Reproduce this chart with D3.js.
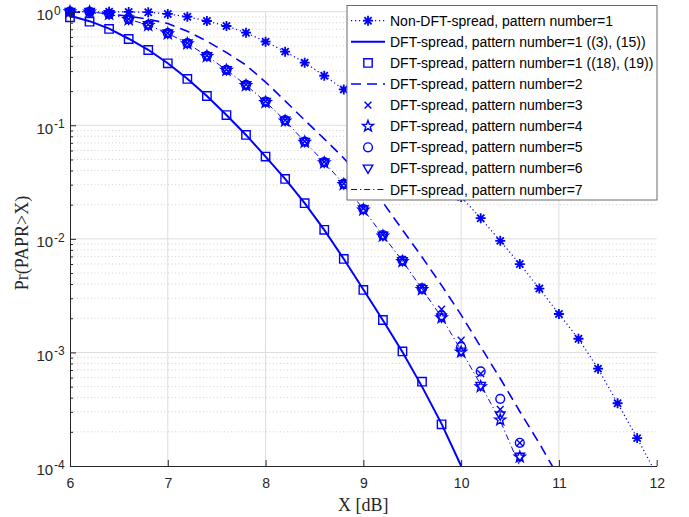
<!DOCTYPE html>
<html>
<head>
<meta charset="utf-8">
<script src="https://cdn.jsdelivr.net/npm/d3@7"></script>
<style>
  body { margin: 0; background: #fff; }
  svg { display: block; }
  .tick text { font-family: "Liberation Sans", Arial, sans-serif; fill: #262626; }
</style>
</head>
<body>
<svg id="chart" width="689" height="517"></svg>
<script>
// x positions (dB) for each curve
const xNonDft = [6.0, 6.2, 6.4, 6.6, 6.8, 7.0, 7.2, 7.4, 7.6, 7.8, 8.0, 8.2, 8.4, 8.6, 8.8,
    9.0, 9.2, 9.4, 9.6, 9.8, 10.0, 10.2, 10.4, 10.6, 10.8, 11.0, 11.2, 11.4, 11.6, 11.8, 12.0];
const xTheory = [6.0, 6.2, 6.4, 6.6, 6.8, 7.0, 7.2, 7.4, 7.6, 7.8, 8.0, 8.2, 8.4, 8.6, 8.8,
    9.0, 9.2, 9.4, 9.6, 9.8, 10.0];
const xSquares = [6.0, 6.2, 6.4, 6.6, 6.8, 7.0, 7.2, 7.4, 7.6, 7.8, 8.0, 8.2, 8.4, 8.6, 8.8,
    9.0, 9.2, 9.4, 9.6, 9.8];
const xPattern2 = [6.0, 6.2, 6.4, 6.6, 6.8, 7.0, 7.2, 7.4, 7.6, 7.8, 8.0, 8.2, 8.4, 8.6, 8.8,
    9.0, 9.2, 9.4, 9.6, 9.8, 10.0, 10.2, 10.4, 10.6, 10.8, 11.0];
const xPatterns = [6.0, 6.2, 6.4, 6.6, 6.8, 7.0, 7.2, 7.4, 7.6, 7.8, 8.0, 8.2, 8.4, 8.6, 8.8,
    9.0, 9.2, 9.4, 9.6, 9.8, 10.0, 10.2, 10.4, 10.6];

// Pr(PAPR > X) values
const nonDft = [1.0, 0.999, 0.998, 0.995, 0.99, 0.955, 0.904, 0.828, 0.748, 0.653, 0.545, 0.445,
    0.356, 0.273, 0.207, 0.148, 0.105, 0.0733, 0.0507, 0.0347, 0.0234, 0.0152, 0.0096, 0.006,
    0.00365, 0.00218, 0.00132, 7.2e-4, 3.57e-4, 1.76e-4, 8.4e-5];
const pattern1Theory = [0.92, 0.825, 0.71, 0.578, 0.462, 0.352, 0.257, 0.181, 0.123, 0.0822, 0.053,
    0.0337, 0.0206, 0.012, 0.00665, 0.00358, 0.00192, 0.00101, 5.0e-4, 2.35e-4, 1.0e-4];
const pattern1Sim = [0.893, 0.817, 0.705, 0.575, 0.46, 0.351, 0.256, 0.181, 0.123, 0.0822, 0.053,
    0.0337, 0.0206, 0.012, 0.00665, 0.00355, 0.00193, 0.00102, 5.53e-4, 2.33e-4];
const pattern2 = [0.995, 0.982, 0.955, 0.912, 0.859, 0.787, 0.673, 0.55, 0.437, 0.339, 0.24, 0.164,
    0.111, 0.0759, 0.0513, 0.0331, 0.0209, 0.012, 0.00692, 0.00389, 0.00214, 0.00112, 5.89e-4,
    3.02e-4, 1.58e-4, 7.9e-5];
const pattern3 = [1.0, 0.998, 0.956, 0.86, 0.768, 0.648, 0.53, 0.41, 0.309, 0.228, 0.162, 0.111,
    0.0722, 0.0476, 0.0307, 0.0185, 0.0109, 0.0066, 0.00375, 0.0024, 0.00128, 6.5e-4, 3.15e-4, 1.6e-4];
const pattern4 = [1.0, 0.997, 0.952, 0.853, 0.758, 0.64, 0.523, 0.404, 0.305, 0.224, 0.159, 0.109,
    0.0711, 0.0468, 0.0301, 0.018, 0.0106, 0.00632, 0.00358, 0.00202, 0.00101, 5.0e-4, 2.55e-4, 1.2e-4];
const pattern5 = [1.0, 0.998, 0.955, 0.858, 0.766, 0.647, 0.529, 0.409, 0.308, 0.227, 0.162, 0.111,
    0.0719, 0.0474, 0.0306, 0.0183, 0.0108, 0.00645, 0.00366, 0.00212, 0.00112, 6.8e-4, 3.9e-4, 1.6e-4];
const pattern6 = [1.0, 0.998, 0.954, 0.857, 0.764, 0.645, 0.527, 0.407, 0.307, 0.226, 0.161, 0.11,
    0.0717, 0.0472, 0.0304, 0.0182, 0.0107, 0.00639, 0.00362, 0.00204, 0.00102, 5.1e-4, 2.8e-4, 1.21e-4];
const pattern7 = [1.0, 0.998, 0.954, 0.857, 0.764, 0.645, 0.527, 0.407, 0.307, 0.226, 0.161, 0.11,
    0.0717, 0.0472, 0.0304, 0.0182, 0.0107, 0.00639, 0.00362, 0.00204, 0.00104, 5.2e-4, 2.5e-4, 1.0e-4];

const xTicks = [6, 7, 8, 9, 10, 11, 12];
const yTicks = [1e-4, 1e-3, 1e-2, 1e-1, 1];
const yTickExp = ['-4', '-3', '-2', '-1', '0'];

const legendLabels = [
    'Non-DFT-spread, pattern number=1',
    'DFT-spread, pattern number=1 ((3), (15))',
    'DFT-spread, pattern number=1 ((18), (19))',
    'DFT-spread, pattern number=2',
    'DFT-spread, pattern number=3',
    'DFT-spread, pattern number=4',
    'DFT-spread, pattern number=5',
    'DFT-spread, pattern number=6',
    'DFT-spread, pattern number=7'
];

const blue = '#0000ff';
const axisColor = '#262626';
const margin = { left: 70, right: 32.3, top: 11.7, bottom: 51 };
const W = 689, H = 517;

const svg = d3.select('#chart');

const xScale = d3.scaleLinear().domain([6, 12]).range([margin.left, W - margin.right]);
const yScale = d3.scaleLog().domain([1e-4, 1]).range([H - margin.bottom, margin.top]);

// minor y values 2..9 x 10^k
const yMinor = [];
[1e-4, 1e-3, 1e-2, 1e-1].forEach(d => {
    for (let m = 2; m <= 9; m++) yMinor.push(d * m);
});

// grid
const grid = svg.append('g');
grid.selectAll('.minor')
    .data(yMinor)
    .enter()
    .append('line')
    .attr('x1', xScale(6)).attr('x2', xScale(12))
    .attr('y1', d => yScale(d)).attr('y2', d => yScale(d))
    .attr('stroke', '#d2d2d2')
    .attr('stroke-width', 1)
    .attr('stroke-dasharray', '1,2.5');
grid.selectAll('.hmajor')
    .data(yTicks.slice(1))
    .enter()
    .append('line')
    .attr('x1', xScale(6)).attr('x2', xScale(12))
    .attr('y1', d => yScale(d)).attr('y2', d => yScale(d))
    .attr('stroke', '#dcdcdc');
grid.selectAll('.vmajor')
    .data(xTicks.slice(1, -1))
    .enter()
    .append('line')
    .attr('x1', d => xScale(d)).attr('x2', d => xScale(d))
    .attr('y1', yScale(1e-4)).attr('y2', yScale(1))
    .attr('stroke', '#dcdcdc');

// clip for lines
svg.append('clipPath').attr('id', 'plotClip')
    .append('rect')
    .attr('x', xScale(6)).attr('y', 0)
    .attr('width', xScale(12) - xScale(6))
    .attr('height', yScale(1e-4));

// marker shapes
function starPath(ro, ri) {
    let p = '';
    for (let i = 0; i < 10; i++) {
        const r = i % 2 === 0 ? ro : ri;
        const a = -Math.PI / 2 + i * Math.PI / 5;
        p += (i === 0 ? 'M' : 'L') + (r * Math.cos(a)).toFixed(2) + ',' + (r * Math.sin(a)).toFixed(2);
    }
    return p + 'Z';
}
const markerPaths = {
    asterisk: 'M-5,0L5,0M0,-5L0,5M-3.6,-3.6L3.6,3.6M-3.6,3.6L3.6,-3.6',
    square: 'M-4.2,-4.2L4.2,-4.2L4.2,4.2L-4.2,4.2Z',
    cross: 'M-3.4,-3.4L3.4,3.4M-3.4,3.4L3.4,-3.4',
    star: starPath(5.8, 2.4),
    circle: 'M4.4,0A4.4,4.4,0,1,1,-4.4,0A4.4,4.4,0,1,1,4.4,0Z',
    triangle: 'M-4.8,-3.3L4.8,-3.3L0,5Z'
};

function drawMarkers(xs, ys, type, width) {
    const pts = xs.map((x, i) => ({ x: x, y: ys[i] })).filter(d => d.y >= 1e-4 && d.x <= 12);
    svg.append('g').selectAll('path')
        .data(pts)
        .enter()
        .append('path')
        .attr('d', markerPaths[type])
        .attr('transform', d => 'translate(' + xScale(d.x) + ',' + yScale(d.y) + ')')
        .attr('fill', 'none')
        .attr('stroke', blue)
        .attr('stroke-width', width || 1.2);
}

function drawLine(xs, ys, width, dash) {
    const line = d3.line().x(d => xScale(d[0])).y(d => yScale(d[1]));
    svg.append('path')
        .datum(xs.map((x, i) => [x, ys[i]]))
        .attr('clip-path', 'url(#plotClip)')
        .attr('d', line)
        .attr('fill', 'none')
        .attr('stroke', blue)
        .attr('stroke-width', width)
        .attr('stroke-dasharray', dash);
}

// curves, in plotting order
drawLine(xNonDft, nonDft, 1.2, '1.2,2.8');
drawMarkers(xNonDft, nonDft, 'asterisk', 1.8);
drawLine(xTheory, pattern1Theory, 2, null);
drawMarkers(xSquares, pattern1Sim, 'square', 1.4);
drawLine(xPattern2, pattern2, 1.6, '10,6');
drawMarkers(xPatterns, pattern3, 'cross', 1.4);
drawMarkers(xPatterns, pattern4, 'star', 1.4);
drawMarkers(xPatterns, pattern5, 'circle', 1.4);
drawMarkers(xPatterns, pattern6, 'triangle', 1.4);
drawLine(xPatterns, pattern7, 1, '6,3,1.2,3');

// axes
const xAxis = svg.append('g')
    .attr('transform', 'translate(0,' + yScale(1e-4) + ')')
    .call(d3.axisBottom(xScale).tickValues(xTicks).tickFormat(d3.format('d'))
        .tickSize(-6).tickSizeOuter(0).tickPadding(12));
xAxis.select('.domain').attr('stroke', axisColor);
xAxis.selectAll('.tick line').attr('stroke', axisColor);
xAxis.selectAll('.tick text').attr('font-size', '14px');

const yAxis = svg.append('g')
    .attr('transform', 'translate(' + xScale(6) + ',0)')
    .call(d3.axisLeft(yScale).tickValues(yTicks).tickSize(-6).tickSizeOuter(0).tickFormat(''));
yAxis.select('.domain').attr('stroke', axisColor);
yAxis.selectAll('.tick line').attr('stroke', axisColor);

const yMinorAxis = svg.append('g')
    .attr('transform', 'translate(' + xScale(6) + ',0)')
    .call(d3.axisLeft(yScale).tickValues(yMinor).tickSize(-3).tickSizeOuter(0).tickFormat(''));
yMinorAxis.select('.domain').remove();
yMinorAxis.selectAll('.tick line').attr('stroke', axisColor);

// y tick labels with superscripts
const yLab = svg.append('g')
    .selectAll('text')
    .data(yTicks)
    .enter()
    .append('text')
    .attr('x', 36.5)
    .attr('y', d => yScale(d) + 8.5)
    .attr('font-family', '"Liberation Sans", Arial, sans-serif')
    .attr('font-size', '15px')
    .attr('fill', axisColor);
yLab.append('tspan').attr('font-size', '15px').text('10');
yLab.append('tspan').attr('font-size', '12px').attr('dx', 0.8).attr('dy', -5.5).text((d, i) => yTickExp[i]);

// axis labels
svg.append('text')
    .text('X [dB]')
    .attr('x', (xScale(6) + xScale(12)) / 2)
    .attr('y', 511)
    .attr('text-anchor', 'middle')
    .attr('font-family', '"Liberation Serif", "Times New Roman", serif')
    .attr('font-size', '18px')
    .attr('fill', axisColor);

svg.append('text')
    .text('Pr(PAPR>X)')
    .attr('transform', 'translate(28,' + 243 + ')rotate(-90)')
    .attr('text-anchor', 'middle')
    .attr('font-family', '"Liberation Serif", "Times New Roman", serif')
    .attr('font-size', '18px')
    .attr('fill', axisColor);

// legend
const legend = svg.append('g');
legend.append('rect')
    .attr('x', 347).attr('y', 5.5)
    .attr('width', 310).attr('height', 194.5)
    .attr('fill', '#fff')
    .attr('stroke', '#6a6a6a')
    .attr('stroke-width', 1);

const legendStyle = [
    { dash: '1.2,2.8', width: 1.2, marker: 'asterisk', mw: 1.8 },
    { dash: null, width: 2, marker: null },
    { dash: null, width: 0, marker: 'square', mw: 1.4 },
    { dash: '10,6', width: 1.6, marker: null },
    { dash: null, width: 0, marker: 'cross', mw: 1.4 },
    { dash: null, width: 0, marker: 'star', mw: 1.4 },
    { dash: null, width: 0, marker: 'circle', mw: 1.4 },
    { dash: null, width: 0, marker: 'triangle', mw: 1.4 },
    { dash: '6,3,1.2,3', width: 1, marker: null }
];

const rows = legend.selectAll('.row')
    .data(legendLabels)
    .enter()
    .append('g')
    .attr('transform', (d, i) => 'translate(0,' + (20.7 + i * 21.1) + ')');

rows.each(function (d, i) {
    const g = d3.select(this);
    const s = legendStyle[i];
    if (s.width > 0) {
        g.append('line')
            .attr('x1', 351).attr('x2', 385)
            .attr('y1', 0).attr('y2', 0)
            .attr('stroke', blue)
            .attr('stroke-width', s.width)
            .attr('stroke-dasharray', s.dash);
    }
    if (s.marker) {
        g.append('path')
            .attr('d', markerPaths[s.marker])
            .attr('transform', 'translate(368,0)')
            .attr('fill', 'none')
            .attr('stroke', blue)
            .attr('stroke-width', s.mw);
    }
    g.append('text')
        .text(d)
        .attr('x', 390)
        .attr('y', 5)
        .attr('font-family', '"Liberation Sans", Arial, sans-serif')
        .attr('font-size', '14px')
        .attr('fill', '#000');
});
</script>
</body>
</html>
